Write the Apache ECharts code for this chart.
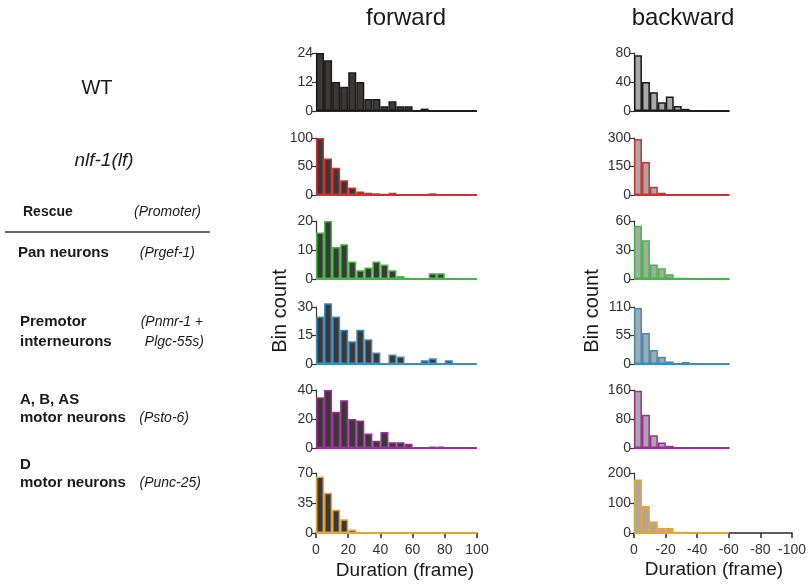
<!DOCTYPE html>
<html><head><meta charset="utf-8">
<script src="https://cdn.jsdelivr.net/npm/echarts@6/dist/echarts.min.js"></script>
<style>html,body{margin:0;padding:0;background:#fff}#c{width:809px;height:587px}</style>
</head><body><div id="c"></div>
<script>
// ---- data ----
const binWidth = 5;
const fwdBins = [2.5,7.5,12.5,17.5,22.5,27.5,32.5,37.5,42.5,47.5,52.5,57.5,62.5,67.5,72.5,77.5,82.5,87.5,92.5,97.5];
const bwdBins = [-2.5,-7.5,-12.5,-17.5,-22.5,-27.5,-32.5,-37.5,-42.5,-47.5,-52.5,-57.5];

const fwdWT       = [24,21,12,10,16,12,5,5,2,4,2,2,0,1,0,0,0,0,0,0];
const fwdNlf      = [100,64,48,26,13,6,4,3,2,4,1,1,0,0,3,0,0,0,0,0];
const fwdPan      = [16,20,11,12,6,3,4,6,5,3,1,0,0,0,2,2,0,0,0,0];
const fwdPremotor = [25,32,25,18,12,18,13,6,0,5,4,0,0,2,3,0,2,0,0,0];
const fwdABAS     = [35,40,25,33,20,19,10,5,11,4,4,3,0,0,1,1,0,0,0,0];
const fwdD        = [66,47,27,16,4,0,0,0,0,0,0,0,0,0,0,0,0,0,0,0];

const bwdWT       = [77,40,26,12,20,7,3,1,0,0,0,0];
const bwdNlf      = [295,174,44,12,0,0,0,0,0,0,0,0];
const bwdPan      = [55,40,15,11,5,1,1,0,0,0,0,0];
const bwdPremotor = [108,60,27,14,5,1,4,0,0,0,0,0];
const bwdABAS     = [158,92,35,15,6,2,0,2,0,0,0,0];
const bwdD        = [178,90,38,17,17,4,4,2,2,1,1,1];

const fwdYMax = [24,100,20,30,40,70];
const bwdYMax = [80,300,60,110,160,200];
const fwdXTicks = [0,20,40,60,80,100];
const bwdXTicks = [0,-20,-40,-60,-80,-100];

// ---- styles / layout ----
const fwdRows = [fwdWT,fwdNlf,fwdPan,fwdPremotor,fwdABAS,fwdD];
const bwdRows = [bwdWT,bwdNlf,bwdPan,bwdPremotor,bwdABAS,bwdD];
const edgeColors = ['#1a1a1a','#d0312d','#3dbb3d','#3a8dc0','#a12d9c','#e2a436'];
const baseColors = ['#2a2a2a','#d0312d','#3dbb3d','#3a8dc0','#a12d9c','#e2a436'];
const fwdFill = '#3b3838';
const bwdFill = '#a8a8a8';
const tops = [53,138,221,307,390,473];
const heights = [58,57,58,57,58,60];
const FONT = '"Liberation Sans", Arial, Helvetica, sans-serif';
const cols = [
  {left:316, width:161, bins:fwdBins, rows:fwdRows, ymax:fwdYMax, ticks:fwdXTicks, fill:fwdFill, inverse:false},
  {left:634, width:159, bins:bwdBins, rows:bwdRows, ymax:bwdYMax, ticks:bwdXTicks, fill:bwdFill, inverse:true}
];

const grid = [], xAxis = [], yAxis = [], series = [];
cols.forEach((col, ci) => {
  const tk = col.ticks;
  const xmin = Math.min(...tk), xmax = Math.max(...tk);
  const interval = Math.abs(tk[1]-tk[0]);
  const bw = col.width * binWidth / (xmax - xmin);
  for (let r = 0; r < 6; r++) {
    const idx = grid.length;
    const last = r === 5;
    grid.push({left: col.left, top: tops[r], width: col.width, height: heights[r]});
    xAxis.push({
      type: 'value', gridIndex: idx, min: xmin, max: xmax, interval: interval, inverse: col.inverse,
      show: last,
      axisLine: {show: true, onZero: false, lineStyle: {color: '#2a2a2a', width: 1.5}},
      axisTick: {show: true, inside: false, length: 5, lineStyle: {color: '#2a2a2a', width: 1.5}},
      axisLabel: {show: true, fontSize: 14, color: '#333', fontFamily: FONT, margin: 10},
      splitLine: {show: false}
    });
    const ym = col.ymax[r];
    yAxis.push({
      type: 'value', gridIndex: idx, min: 0, max: ym, interval: ym/2,
      axisLine: {show: true, lineStyle: {color: '#333', width: 1.2}},
      axisTick: {show: true, inside: false, length: 4, lineStyle: {color: '#333', width: 1.2}},
      axisLabel: {show: true, fontSize: 14, color: '#333', fontFamily: FONT, margin: 3},
      splitLine: {show: false}
    });
    const bins = col.bins;
    const half = binWidth/2 * Math.sign(bins[0]);
    series.push({
      type: 'line', xAxisIndex: idx, yAxisIndex: idx, symbol: 'none', silent: true, z: 1,
      data: [[bins[0]-half, 0], [bins[bins.length-1]+half, 0]],
      lineStyle: {color: baseColors[r], width: 2}
    });
    series.push({
      type: 'bar', xAxisIndex: idx, yAxisIndex: idx, clip: false, z: 3,
      barWidth: bw,
      data: bins.map((b, i) => [b, col.rows[r][i]]),
      itemStyle: {color: col.fill, borderColor: edgeColors[r], borderWidth: 1.5}
    });
  }
});

const txt = (x, y, s, o) => Object.assign({
  type: 'text', x: x, y: y,
  style: Object.assign({text: s, font: (o && o.font) || ('15px ' + FONT), fill: '#1a1a1a',
    textAlign: (o && o.align) || 'left', textVerticalAlign: 'middle'})
}, (o && o.extra) || {});

const graphic = [
  txt(406, 18, 'forward', {font: '24px ' + FONT, align: 'center'}),
  txt(683, 18, 'backward', {font: '24px ' + FONT, align: 'center'}),
  txt(280, 311, 'Bin count', {font: '20px ' + FONT, align: 'center', extra: {rotation: Math.PI/2}}),
  txt(592, 311, 'Bin count', {font: '20px ' + FONT, align: 'center', extra: {rotation: Math.PI/2}}),
  txt(405, 571, 'Duration (frame)', {font: '19px ' + FONT, align: 'center'}),
  txt(714, 570, 'Duration (frame)', {font: '19px ' + FONT, align: 'center'}),
  txt(97, 88, 'WT', {font: '20px ' + FONT, align: 'center'}),
  txt(104, 161, 'nlf-1(lf)', {font: 'italic 19px ' + FONT, align: 'center'}),
  txt(23, 212, 'Rescue', {font: 'bold 14px ' + FONT}),
  txt(201, 212, '(Promoter)', {font: 'italic 14px ' + FONT, align: 'right'}),
  {type: 'line', shape: {x1: 5, y1: 232, x2: 210, y2: 232}, style: {stroke: '#666', lineWidth: 2}},
  txt(18, 253, 'Pan neurons', {font: 'bold 15px ' + FONT}),
  txt(195, 253, '(Prgef-1)', {font: 'italic 14px ' + FONT, align: 'right'}),
  txt(20, 322, 'Premotor', {font: 'bold 15px ' + FONT}),
  txt(20, 342, 'interneurons', {font: 'bold 15px ' + FONT}),
  txt(203, 322, '(Pnmr-1 +', {font: 'italic 14px ' + FONT, align: 'right'}),
  txt(204, 342, 'Plgc-55s)', {font: 'italic 14px ' + FONT, align: 'right'}),
  txt(20, 400, 'A, B, AS', {font: 'bold 15px ' + FONT}),
  txt(20, 418, 'motor neurons', {font: 'bold 15px ' + FONT}),
  txt(189, 418, '(Psto-6)', {font: 'italic 14px ' + FONT, align: 'right'}),
  txt(20, 465, 'D', {font: 'bold 15px ' + FONT}),
  txt(20, 483, 'motor neurons', {font: 'bold 15px ' + FONT}),
  txt(201, 483, '(Punc-25)', {font: 'italic 14px ' + FONT, align: 'right'})
];

const chart = echarts.init(document.getElementById('c'), null, {renderer: 'canvas'});
chart.setOption({
  backgroundColor: '#fff',
  animation: false,
  grid: grid, xAxis: xAxis, yAxis: yAxis, series: series, graphic: graphic
});
</script></body></html>
